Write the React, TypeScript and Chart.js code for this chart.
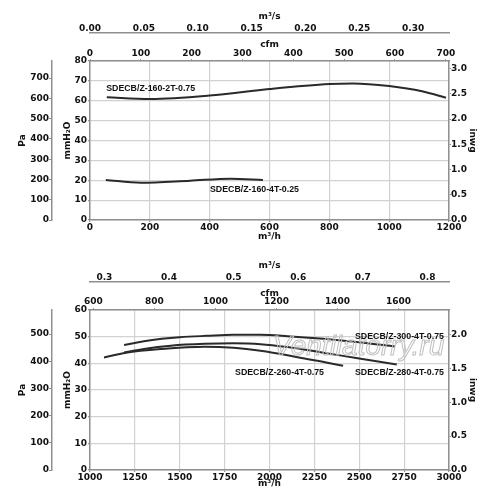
import React, { useEffect, useRef } from "react";
import { Chart, registerables } from "chart.js";

Chart.register(...registerables);

// Unit conversions
const M3H_PER_CFM = 1.699011;
const PA_PER_MM = 9.80665;
const MM_PER_INWG = 25.4;
const M3H_PER_M3S = 3600;

// ---------- Top chart data ----------
const topFlowRange = [0, 1200];
const topMmRange = [0, 80];
const topFlowTicks = [0, 200, 400, 600, 800, 1000, 1200];
const topCfmTicks = [0, 100, 200, 300, 400, 500, 600, 700];
const topMsTicks = [0, 0.05, 0.1, 0.15, 0.2, 0.25, 0.3];
const topMmTicks = [0, 10, 20, 30, 40, 50, 60, 70, 80];
const topPaTicks = [0, 100, 200, 300, 400, 500, 600, 700];
const topInwgTicks = [0, 0.5, 1, 1.5, 2, 2.5, 3];

const c160_2T_flow = [56, 200, 400, 600, 800, 880, 1000, 1110, 1190];
const c160_2T_mm = [61.7, 60.9, 62.6, 65.9, 68.4, 68.7, 67.4, 64.8, 61.5];

const c160_4T_flow = [53, 170, 334, 470, 578];
const c160_4T_mm = [20.1, 18.8, 19.8, 20.8, 20.1];

const topLabelText = ["SDECB/Z-160-2T-0.75", "SDECB/Z-160-4T-0.25"];
const topLabelFlow = [54, 401];
const topLabelMm = [66.3, 15.1];

// ---------- Bottom chart data ----------
const botFlowRange = [1000, 3000];
const botMmRange = [0, 60];
const botFlowTicks = [1000, 1250, 1500, 1750, 2000, 2250, 2500, 2750, 3000];
const botCfmTicks = [600, 800, 1000, 1200, 1400, 1600];
const botMsTicks = [0.3, 0.4, 0.5, 0.6, 0.7, 0.8];
const botMmTicks = [0, 10, 20, 30, 40, 50, 60];
const botPaTicks = [0, 100, 200, 300, 400, 500];
const botInwgTicks = [0, 0.5, 1, 1.5, 2];

const c300_4T_flow = [1190, 1300, 1400, 1500, 1650, 1800, 1950, 2100, 2300, 2500, 2699];
const c300_4T_mm = [46.9, 48.3, 49.2, 49.8, 50.3, 50.7, 50.7, 50.2, 49.2, 47.9, 46.3];

const c280_4T_flow = [1190, 1300, 1450, 1640, 1800, 1950, 2100, 2300, 2500, 2709];
const c280_4T_mm = [44.1, 45.4, 46.6, 47.3, 47.5, 47.2, 46.1, 44.0, 41.8, 39.6];

const c260_4T_flow = [1078, 1200, 1400, 1640, 1800, 1950, 2150, 2337, 2410];
const c260_4T_mm = [42.2, 44.0, 45.4, 46.2, 45.8, 44.7, 42.4, 40.0, 39.1];

const botLabelText = ["SDECB/Z-300-4T-0.75", "SDECB/Z-280-4T-0.75", "SDECB/Z-260-4T-0.75"];
const botLabelFlow = [2476, 2476, 1808];
const botLabelMm = [50.0, 36.5, 36.5];

const watermarkText = "Ventilatorry.ru";

// ---------- styling ----------
const TICK_FONT = { family: "'DejaVu Sans'", weight: "bold" as const, size: 9 };
const BORDER = "#8f8f8f";
const GRID = "#d2d2d2";
const LINE = "#2a2a2a";

function toPoints(xs: number[], ys: number[]) {
  return xs.map((x, i) => ({ x, y: ys[i] }));
}

const curveLabelPlugin = {
  id: "curveLabels",
  afterDatasetsDraw(chart: any, _args: any, opts: any) {
    const { ctx, scales, chartArea } = chart;
    const xs = scales.x;
    const ys = scales.y;
    ctx.save();
    if (opts.watermark) {
      ctx.font = "italic 28px 'Liberation Sans'";
      ctx.textAlign = "left";
      ctx.textBaseline = "middle";
      ctx.lineWidth = 1;
      ctx.strokeStyle = "#c0c0c0";
      const wx = chartArea.left + (chartArea.right - chartArea.left) * 0.51;
      const wy = chartArea.top + (chartArea.bottom - chartArea.top) * 0.235;
      ctx.strokeText(opts.watermark, wx, wy);
    }
    ctx.font = "bold 8.8px 'Liberation Sans'";
    ctx.fillStyle = "#111";
    ctx.textAlign = "left";
    ctx.textBaseline = "middle";
    const texts: string[] = opts.texts || [];
    texts.forEach((t, i) => {
      ctx.fillText(t, xs.getPixelForValue(opts.flows[i]), ys.getPixelForValue(opts.mms[i]));
    });
    ctx.restore();
  },
};

interface Cfg {
  flowRange: number[];
  mmRange: number[];
  flowTicks: number[];
  cfmTicks: number[];
  msTicks: number[];
  mmTicks: number[];
  paTicks: number[];
  inwgTicks: number[];
  msDigits: number;
  curves: { flow: number[]; mm: number[] }[];
  texts: string[];
  flows: number[];
  mms: number[];
  watermark?: string;
  xTitlePad: number;
  xHeight: number;
  cfmPad: number;
}

function fixW(w: number) {
  return (s: any) => {
    s.width = w;
  };
}
function fixH(h: number) {
  return (s: any) => {
    s.height = h;
  };
}
function setTicks(arr: number[]) {
  return (s: any) => {
    s.ticks = arr.map((v) => ({ value: v }));
  };
}

function titleOpt(text: string, padding: any) {
  return { display: true, text, font: TICK_FONT, color: "#111", padding };
}

function buildConfig(c: Cfg): any {
  const [f0, f1] = c.flowRange;
  const [m0, m1] = c.mmRange;
  const baseTicks = { font: TICK_FONT, color: "#111", autoSkip: false, maxRotation: 0 };
  const sideGrid = { display: true, drawOnChartArea: false, color: BORDER, tickColor: BORDER };
  return {
    type: "line",
    data: {
      datasets: c.curves.map((cv) => ({
        data: toPoints(cv.flow, cv.mm),
        borderColor: LINE,
        borderWidth: 2,
        pointRadius: 0,
        fill: false,
        cubicInterpolationMode: "monotone",
        xAxisID: "x",
        yAxisID: "y",
      })),
    },
    options: {
      animation: false,
      responsive: false,
      events: [],
      layout: { padding: 0 },
      plugins: {
        legend: { display: false },
        tooltip: { enabled: false },
        curveLabels: { texts: c.texts, flows: c.flows, mms: c.mms, watermark: c.watermark },
      },
      scales: {
        ms: {
          type: "linear",
          position: "top",
          weight: 10,
          min: f0 / M3H_PER_M3S,
          max: f1 / M3H_PER_M3S,
          grid: { ...sideGrid, drawTicks: false },
          border: { display: true, color: BORDER, width: 1.5 },
          ticks: { ...baseTicks, padding: -1, callback: (v: number) => v.toFixed(c.msDigits) },
          afterBuildTicks: setTicks(c.msTicks),
          title: titleOpt("m³/s", { top: 11.5, bottom: 0 }),
          afterFit: fixH(33),
        },
        cfm: {
          type: "linear",
          position: "top",
          weight: 0,
          min: f0 / M3H_PER_CFM,
          max: f1 / M3H_PER_CFM,
          grid: { ...sideGrid, drawTicks: true, tickLength: 2 },
          border: { display: true, color: BORDER, width: 1.5 },
          ticks: { ...baseTicks, padding: c.cfmPad, callback: (v: number) => String(Math.round(v)) },
          afterBuildTicks: setTicks(c.cfmTicks),
          title: titleOpt("cfm", { top: 6.6, bottom: 0 }),
          afterFit: fixH(28),
        },
        x: {
          type: "linear",
          position: "bottom",
          min: f0,
          max: f1,
          grid: { display: true, drawOnChartArea: true, color: GRID, lineWidth: 1.2, tickColor: BORDER, tickLength: 2 },
          border: { display: true, color: BORDER, width: 1.5 },
          ticks: { ...baseTicks, padding: 0, callback: (v: number) => String(Math.round(v)) },
          afterBuildTicks: setTicks(c.flowTicks),
          title: titleOpt("m³/h", { top: 0, bottom: c.xTitlePad }),
          afterFit: fixH(c.xHeight),
        },
        pa: {
          type: "linear",
          position: "left",
          weight: 10,
          min: m0 * PA_PER_MM,
          max: m1 * PA_PER_MM,
          grid: { ...sideGrid, drawTicks: true, tickLength: 3 },
          border: { display: true, color: BORDER, width: 1.5 },
          ticks: { ...baseTicks, padding: 0, callback: (v: number) => String(Math.round(v)) },
          afterBuildTicks: setTicks(c.paTicks),
          title: titleOpt("Pa", { top: 17, bottom: 0 }),
          afterFit: fixW(52),
        },
        y: {
          type: "linear",
          position: "left",
          weight: 0,
          min: m0,
          max: m1,
          grid: { display: true, drawOnChartArea: true, color: GRID, lineWidth: 1.2, tickColor: BORDER, tickLength: 2 },
          border: { display: true, color: BORDER, width: 1.5 },
          ticks: { ...baseTicks, padding: 1, callback: (v: number) => String(Math.round(v)) },
          afterBuildTicks: setTicks(c.mmTicks),
          title: titleOpt("mmH₂O", { top: 10.6, bottom: 0 }),
          afterFit: fixW(38),
        },
        inwg: {
          type: "linear",
          position: "right",
          min: m0 / MM_PER_INWG,
          max: m1 / MM_PER_INWG,
          grid: { ...sideGrid, drawTicks: true, tickLength: 2 },
          border: { display: true, color: BORDER, width: 1.5 },
          ticks: { ...baseTicks, padding: 0, callback: (v: number) => v.toFixed(1) },
          afterBuildTicks: setTicks(c.inwgTicks),
          title: titleOpt("inwg", { top: 21.9, bottom: 0 }),
          afterFit: fixW(51),
        },
      },
    },
    plugins: [curveLabelPlugin],
  };
}

const topCfg: Cfg = {
  flowRange: topFlowRange,
  mmRange: topMmRange,
  flowTicks: topFlowTicks,
  cfmTicks: topCfmTicks,
  msTicks: topMsTicks,
  mmTicks: topMmTicks,
  paTicks: topPaTicks,
  inwgTicks: topInwgTicks,
  msDigits: 2,
  curves: [
    { flow: c160_2T_flow, mm: c160_2T_mm },
    { flow: c160_4T_flow, mm: c160_4T_mm },
  ],
  texts: topLabelText,
  flows: topLabelFlow,
  mms: topLabelMm,
  xTitlePad: 6.6,
  xHeight: 29,
  cfmPad: 0,
};

const botCfg: Cfg = {
  flowRange: botFlowRange,
  mmRange: botMmRange,
  flowTicks: botFlowTicks,
  cfmTicks: botCfmTicks,
  msTicks: botMsTicks,
  mmTicks: botMmTicks,
  paTicks: botPaTicks,
  inwgTicks: botInwgTicks,
  msDigits: 1,
  curves: [
    { flow: c300_4T_flow, mm: c300_4T_mm },
    { flow: c280_4T_flow, mm: c280_4T_mm },
    { flow: c260_4T_flow, mm: c260_4T_mm },
  ],
  texts: botLabelText,
  flows: botLabelFlow,
  mms: botLabelMm,
  watermark: watermarkText,
  xTitlePad: 8.6,
  xHeight: 28,
  cfmPad: 1,
};

function FanChart({ cfg, top }: { cfg: Cfg; top: number }) {
  const ref = useRef<HTMLCanvasElement | null>(null);
  useEffect(() => {
    if (!ref.current) return;
    const chart = new Chart(ref.current, buildConfig(cfg));
    return () => chart.destroy();
  }, [cfg]);
  return (
    <canvas
      ref={ref}
      width={500}
      height={249}
      style={{ position: "absolute", left: 0, top, width: 500, height: 249 }}
    />
  );
}

export default function App() {
  return (
    <div style={{ position: "absolute", left: 0, top: 0, width: 500, height: 498, background: "#fff" }}>
      <FanChart cfg={topCfg} top={0} />
      <FanChart cfg={botCfg} top={249} />
    </div>
  );
}
